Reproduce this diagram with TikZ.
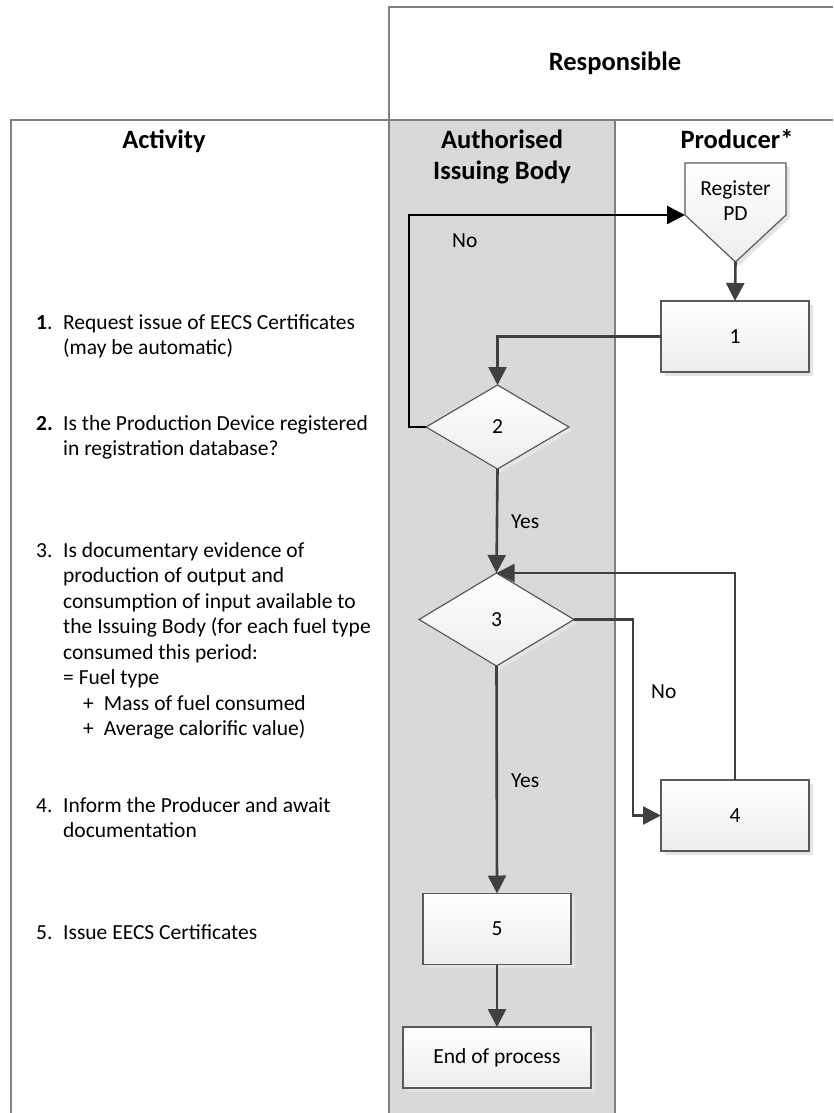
\documentclass[tikz,border=0pt]{standalone}
\usepackage{fontspec}
\setmainfont{Carlito}
\usetikzlibrary{arrows.meta,shapes.geometric,shadows,calc}
\definecolor{lanegray}{HTML}{7F7F7F}
\definecolor{lanefill}{HTML}{D9D9D9}
\definecolor{conngray}{HTML}{404040}
\definecolor{boxborder}{HTML}{595959}
\definecolor{boxbottom}{HTML}{EDEDED}
\definecolor{shadowgray}{HTML}{E4E4E4}
\newcommand\myBody{\fontsize{21.5}{25.5}\selectfont}
\newcommand\myHead{\fontsize{26.5}{32}\selectfont\bfseries}
\begin{document}
\begin{tikzpicture}[x=1pt,y=-1pt,
  lane/.style={draw=lanegray, line width=1.3pt},
  shapebase/.style={draw=boxborder, line width=1.2pt, top color=white, bottom color=boxbottom,
    drop shadow={shadow xshift=3.5pt, shadow yshift=-3.5pt, fill=shadowgray, opacity=1}},
  procbox/.style={shapebase, rectangle, minimum width=148pt, minimum height=71pt, inner sep=0pt, outer sep=0pt, font=\myBody},
  decision/.style={shapebase, diamond, inner sep=0pt, outer sep=0pt, font=\myBody},
  conn/.style={draw=conngray, line width=2.6pt, -{Triangle[length=18pt,width=18pt]}},
  noloop/.style={conn, draw=black},
  head/.style={font=\myHead, inner sep=0pt, anchor=base},
  body/.style={font=\myBody, inner sep=0pt, anchor=base west},
  lbl/.style={font=\myBody, inner sep=0pt, anchor=base west}
]
\useasboundingbox (0,0) rectangle (833,1113);
% lanes
\fill[lanefill] (389,120) rectangle (615,1113);
\draw[lane] (11,1113) -- (11,120) -- (833,120);
\draw[lane] (389,1113) -- (389,7) -- (833,7);
\draw[lane] (615,120) -- (615,1113);
% headers
\node[head] (hresp) at (615,71) {Responsible};
\node[head] (hact) at (164,148) {Activity};
\node[head] (hib) at (502,148) {\begin{tabular}[t]{@{}c@{}}Authorised\\Issuing Body\end{tabular}};
\node[head] (hprod) at (737,148) {Producer*};
% activity texts
\node[body] (t1) at (36,329) {\begin{tabular}[t]{@{}p{27pt}@{}l@{}}\textbf{1}. & Request issue of EECS Certificates\\ & (may be automatic)\end{tabular}};
\node[body] (t2) at (36,430) {\begin{tabular}[t]{@{}p{27pt}@{}l@{}}\textbf{2.} & Is the Production Device registered\\ & in registration database?\end{tabular}};
\node[body] (t3) at (36,557) {\begin{tabular}[t]{@{}p{27pt}@{}l@{}}3. & Is documentary evidence of\\ & production of output and\\ & consumption of input available to\\ & the Issuing Body (for each fuel type\\ & consumed this period:\\ & = Fuel type\\ & \hspace*{20pt}+\hspace{10pt}Mass of fuel consumed\\ & \hspace*{20pt}+\hspace{10pt}Average calorific value)\end{tabular}};
\node[body] (t4) at (36,812) {\begin{tabular}[t]{@{}p{27pt}@{}l@{}}4. & Inform the Producer and await\\ & documentation\end{tabular}};
\node[body] (t5) at (36,939) {\begin{tabular}[t]{@{}p{27pt}@{}l@{}}5. & Issue EECS Certificates\end{tabular}};
% Register PD pentagon
\node[rectangle, minimum width=101pt, minimum height=52pt, inner sep=0pt, outer sep=0pt] (reg) at (735.5,189) {};
\coordinate (regtip) at ($(reg.south)+(0,47)$);
\path[shapebase] (reg.north west) -- (reg.north east) -- (reg.south east) -- (regtip) -- (reg.south west) -- cycle;
\node[font=\myBody, inner sep=0pt, anchor=base] (regtext) at (735.5,195) {\begin{tabular}[t]{@{}c@{}}Register\\PD\end{tabular}};
% process nodes
\node[procbox] (b1) at (735,336.5) {1};
\node[decision, minimum width=143pt, minimum height=84pt] (d2) at (497.5,427) {2};
\node[decision, minimum width=155pt, minimum height=93pt] (d3) at (496.5,619.5) {3};
\node[procbox] (b4) at (735,815.5) {4};
\node[procbox] (b5) at (497,929) {5};
\node[procbox, minimum width=188pt, minimum height=61pt] (e) at (497,1057.5) {End of process};
% connectors
\draw[conn] (regtip) -- (b1.north);
\draw[conn] (b1.west) -| (d2.north);
\draw[noloop] (d2.west) -- ++(-17,0) |- (reg.south west);
\draw[conn] (d2.south) -- (d3.north);
\draw[conn] (d3.east) -- ++(59,0) |- (b4.west);
\draw[conn] (b4.north) |- (d3.north);
\draw[conn] (d3.south) -- (b5.north);
\draw[conn] (b5.south) -- (e.north);
% labels
\node[lbl] (lno1) at (452,247) {No};
\node[lbl] (lyes1) at (511,528) {Yes};
\node[lbl] (lno2) at (651,698) {No};
\node[lbl] (lyes2) at (511,787) {Yes};
\end{tikzpicture}
\end{document}
